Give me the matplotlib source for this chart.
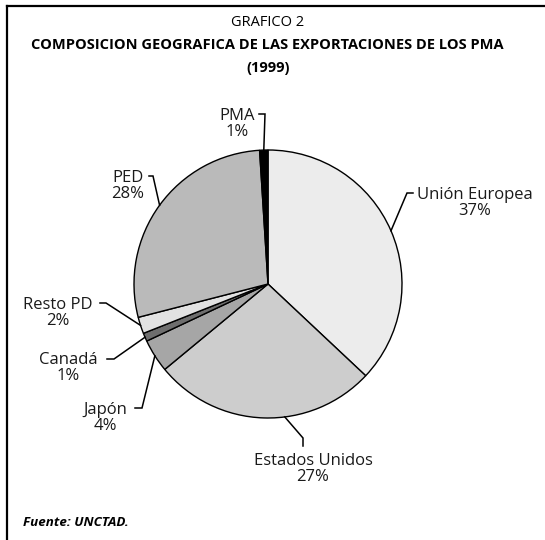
import numpy as np
import matplotlib
matplotlib.use("Agg")
import matplotlib.pyplot as plt

# data
labels = ["Unión Europea", "Estados Unidos", "Japón", "Canadá", "Resto PD", "PED", "PMA"]
shares = [37, 27, 4, 1, 2, 28, 1]
colors = ["#ececec", "#cdcdcd", "#a6a6a6", "#6e6e6e", "#e2e2e2", "#bababa", "#000000"]

W, H = 545, 540
plt.rcParams['font.family'] = ['Open Sans', 'DejaVu Sans']

fig = plt.figure(figsize=(W / 100, H / 100), dpi=100)
ax = fig.add_axes([0, 0, 1, 1])
ax.set_xlim(0, W)
ax.set_ylim(0, H)
ax.set_aspect('equal')
ax.axis('off')

def py(y):  # pixel row (top down) -> data y
    return H - y

cx, cy, r = 268, 284, 134
wedges, _ = ax.pie(shares, colors=colors, startangle=90, counterclock=False,
                   center=(cx, py(cy)), radius=r,
                   wedgeprops=dict(edgecolor='black', linewidth=1.0))
ax.set_xlim(0, W)
ax.set_ylim(0, H)

# label layout: (text center x, text center y, elbow x, elbow y, tick end x, anchor angle shift)
layout = {
    "Unión Europea": (475, 203, 407, 193, 413, 0),
    "Estados Unidos": (313, 469, 303, 438, None, 9),
    "Japón": (105, 418, 142, 408, 135, 0),
    "Canadá": (68, 368, 114, 359, 107, 0),
    "Resto PD": (58, 313, 106, 303, 100, 0),
    "PED": (128, 186, 153, 176, 149, 0),
    "PMA": (237, 124, 265, 114, 259, 0),
}

for w, lab, val in zip(wedges, labels, shares):
    tx, ty, ex, ey, tk, shift = layout[lab]
    mid = np.deg2rad((w.theta1 + w.theta2) / 2 + shift)
    x0 = cx + r * np.cos(mid)
    y0 = py(cy) + r * np.sin(mid)
    if lab == "Estados Unidos":
        xs = [x0, ex, ex]
        ys = [y0, py(ey), py(ey + 8)]
    else:
        xs = [x0, ex, tk]
        ys = [y0, py(ey), py(ey)]
    ax.plot(xs, ys, color='black', lw=1.1, solid_joinstyle='miter')
    ax.text(tx, py(ty), f"{lab}\n{val}%", ha='center', va='center',
            fontsize=12, linespacing=1.05, color='#1a1a1a')

# titles
ax.text(268, py(22), "GRAFICO 2", ha='center', va='center', fontsize=10.5)
ax.text(267, py(45), "COMPOSICION GEOGRAFICA DE LAS EXPORTACIONES DE LOS PMA",
        ha='center', va='center', fontsize=10.5, fontweight='bold')
ax.text(268, py(68), "(1999)", ha='center', va='center', fontsize=10.5, fontweight='bold')
ax.text(23, py(523), "Fuente: UNCTAD.", ha='left', va='center', fontsize=9.6,
        fontweight='bold', style='italic')

# frame (only top and left edges visible)
ax.plot([7, W], [py(6), py(6)], color='black', lw=1.6)
ax.plot([7, 7], [py(6), 0], color='black', lw=1.6)

fig.savefig("out.png", dpi=100)
